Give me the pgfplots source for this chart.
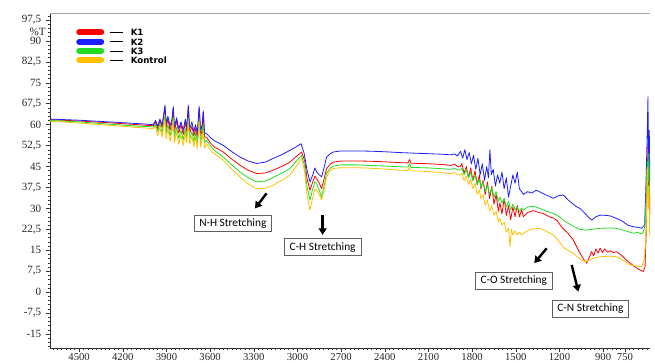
\documentclass[border=0pt]{standalone}
\usepackage{fontspec}
\setmainfont{Liberation Serif}
\setsansfont{DejaVu Sans}
\newfontfamily\calib{Carlito}
\usepackage{pgfplots}
\pgfplotsset{compat=1.18}
\usetikzlibrary{arrows.meta}
\definecolor{cKa}{HTML}{FF0000}
\definecolor{cKb}{HTML}{1E1EFF}
\definecolor{cKc}{HTML}{22DD22}
\definecolor{cKo}{HTML}{FFC000}
\begin{document}
\begin{tikzpicture}
\path[use as bounding box] (-37.5pt,-11.25pt) rectangle (453.75pt,261pt);
\begin{axis}[
  at={(0,0)}, anchor=south west,
  scale only axis, width=450pt, height=251.25pt,
  x dir=reverse, xmin=578, xmax=4700, ymin=-20, ymax=100,
  clip=false,
  axis x line*=bottom, axis y line*=left,
  axis line style={-, black!80, line width=0.5pt},
  tick align=outside,
  major tick length=3pt, minor tick length=1.5pt,
  every tick/.style={black!80, line width=0.4pt},
  xtick={4500,4200,3900,3600,3300,3000,2700,2400,2100,1800,1500,1200,900,750},
  minor xtick={600,630,...,4680},
  ytick={-15,-7.5,0,7.5,15,22.5,30,37.5,45,52.5,60,67.5,75,82.5,90,97.5},
  minor ytick={-19.5,-18,...,99},
  xticklabel style={font=\fontsize{8}{9}\selectfont, text=black!85, inner sep=0.8pt},
  yticklabel style={font=\fontsize{8.3}{9}\selectfont, text=black!85, xshift=0pt},
  /pgf/number format/assume math mode=true,
  /pgf/number format/.cd, use comma, fixed, precision=1, 1000 sep={},
  /pgfplots/.cd,
  every axis plot/.append style={mark=none, line width=0.6pt, line join=round},
  legend image code/.code={\draw[line width=4.5pt, line cap=round] (2.25pt,0pt) -- (18.75pt,0pt); \draw[black, line width=0.6pt] (25.5pt,0pt) -- (35pt,0pt);},
  legend style={at={(axis description cs:0.0433,0.955)}, anchor=north west, draw=none, fill=none,
    inner sep=0pt, font=\sffamily\bfseries\fontsize{6.5}{7}\selectfont, row sep=0.8pt,
    nodes={inner sep=0.6pt, text height=5pt, text depth=0pt},
    /tikz/every odd column/.append style={column sep=5pt}},
  legend cell align=left,
]
% K1
\addplot[cKa] coordinates {
(4700,61.8) (4500,61.3) (4300,60.7) (4100,60.0) (3990,59.6)
(3975,61) (3960,58.5) (3945,61.5) (3930,59) (3918,63) (3910,66.3) (3902,59) (3890,62) (3875,58) (3862,61) (3853,66) (3845,57.5) (3830,61.5) (3815,57) (3800,60) (3785,56.5) (3770,61) (3760,57.5) (3750,66.3) (3740,57) (3725,59.5) (3712,56) (3700,58.5) (3688,55.5) (3675,66) (3665,56) (3655,58) (3647,64) (3638,55.5)
(3625,55.6) (3600,53.5) (3570,52) (3510,50.2) (3450,47.6) (3395,45.5) (3340,43.7) (3281,42.5) (3220,42.7) (3167,43.7) (3110,45) (3052,46.6) (3010,48.5) (2971,50.2) (2950,47) (2935,41) (2914,36.5) (2895,39.5) (2880,41.5) (2868,40.7) (2850,39) (2834,37.1) (2815,41) (2800,44.3) (2775,45.8) (2754,46.6)
(2700,47) (2600,47) (2500,46.9) (2400,46.7) (2297,46.4) (2240,46.3) (2230,47.5) (2220,46.2) (2100,46) (2000,45.7) (1950,45.4) (1920,45.8) (1900,45) (1884,44.9)
(1870,46) (1855,42.5) (1840,45) (1825,41) (1810,44.5) (1795,40) (1780,43.5) (1765,38.5) (1750,42) (1740,37) (1725,40) (1710,35) (1695,39.5) (1680,33.5) (1665,38) (1650,31.5) (1635,35) (1620,29) (1609,32) (1595,28) (1580,33.5) (1565,27.5) (1550,31) (1535,26) (1520,30.5) (1505,27) (1490,31) (1475,27) (1460,29.5) (1448,27)
(1420,28.5) (1380,29.2) (1340,28.5) (1311,28.2) (1270,27) (1240,26.5) (1219,25.8) (1180,23) (1140,21) (1105,18.7) (1060,14) (1030,11.5) (1013,10.4) (995,12.5) (980,14.5) (965,13) (950,15.5) (935,14) (921,15.8) (905,14.2) (890,15.5) (870,14.3) (850,14.8) (830,14.2) (807,14.5) (770,13) (740,11.5) (715,10.4) (680,9) (650,8) (624,7.4) (612,9) (605,20) (598,38) (592,53) (588,35) (584,48) (579,28)
};
% K2
\addplot[cKb] coordinates {
(4700,62.0) (4500,61.6) (4300,61.0) (4100,60.4) (3990,60.0)
(3975,61.5) (3960,59.5) (3945,62) (3930,60) (3918,64) (3910,67) (3902,60.5) (3890,63) (3875,59.5) (3862,62) (3853,66.5) (3845,59) (3830,62.5) (3815,58.5) (3800,61) (3785,58) (3770,62) (3760,59) (3750,67) (3740,58.5) (3725,61) (3712,57.5) (3700,60) (3688,57) (3675,66.5) (3665,57.5) (3655,60) (3647,65) (3638,57)
(3625,56.8) (3600,55.5) (3570,54.2) (3510,52.6) (3450,50.3) (3395,48.4) (3340,47) (3281,46.1) (3220,46.6) (3167,47.9) (3110,49.2) (3052,50.8) (3010,52) (2976,53.2) (2955,50) (2935,44) (2914,39.5) (2895,42) (2880,44.5) (2868,43.1) (2850,42) (2834,41.3) (2815,45) (2800,48.4) (2775,49.6) (2754,50.2)
(2700,50.6) (2600,50.6) (2500,50.5) (2400,50.3) (2297,50.0) (2200,49.8) (2100,49.6) (2000,49.4) (1950,49.2) (1920,49.5) (1900,48.8)
(1880,50.5) (1865,48) (1850,51) (1835,47.5) (1820,50) (1805,46) (1790,49) (1775,44) (1760,48) (1745,42) (1730,46) (1715,40) (1700,45) (1688,41) (1678,51) (1668,42) (1655,44) (1640,38) (1625,42) (1610,39) (1595,43) (1580,37) (1565,41) (1550,34) (1535,38) (1520,42) (1505,39) (1490,43) (1475,37) (1460,36) (1448,35)
(1420,36) (1390,35.5) (1360,36.5) (1334,35.9) (1300,35) (1270,34.3) (1242,33.6) (1210,34.5) (1174,34.8) (1140,33) (1105,31.5) (1080,30.5) (1059,30) (1030,28.5) (1000,26.8) (978,25.8) (950,27) (921,27.6) (880,27.5) (850,27.3) (807,26.4) (770,25.5) (730,24) (692,23.4) (660,23.2) (635,22.9) (615,24) (605,40) (598,55) (592,70) (588,45) (583,58) (579,40)
};
% K3
\addplot[cKc] coordinates {
(4700,61.5) (4500,61) (4300,60.2) (4100,59.5) (3990,59.2)
(3975,60) (3960,57.5) (3945,60.5) (3930,57) (3918,61) (3910,63) (3902,57) (3890,60) (3875,56) (3862,59) (3853,62.5) (3845,55.5) (3830,59) (3815,55) (3800,58) (3785,54.5) (3770,58.5) (3760,55) (3750,62.5) (3740,55) (3725,57.5) (3712,54) (3700,57) (3688,53.5) (3675,62) (3665,54) (3655,56) (3647,60) (3638,53.5)
(3625,54.4) (3600,52.5) (3570,50.8) (3510,48.4) (3450,45.5) (3395,43.1) (3340,41) (3281,39.5) (3220,39.8) (3167,41.1) (3110,42.6) (3052,44.3) (3010,46.8) (2971,49) (2950,45) (2935,38) (2914,33) (2895,37) (2880,39.5) (2868,38.9) (2850,36.5) (2834,34.1) (2815,38.5) (2800,42.5) (2775,44.5) (2754,45.1)
(2700,45.6) (2600,45.6) (2500,45.4) (2400,45.2) (2297,44.9) (2240,44.8) (2230,46) (2220,44.7) (2100,44.5) (2000,44.2) (1950,44) (1920,44.3) (1900,43.8) (1884,43.7)
(1870,44.5) (1855,42) (1840,44) (1825,41) (1810,43) (1795,40) (1780,42) (1765,38.5) (1750,40.5) (1740,37.5) (1725,39.5) (1710,36) (1695,38.5) (1680,35) (1665,37.5) (1650,34) (1635,36) (1620,32.5) (1609,34) (1595,32) (1580,33.5) (1565,30.5) (1550,32.5) (1535,29.5) (1520,31.5) (1505,29.5) (1490,30.5) (1475,29) (1460,30) (1448,29.4)
(1420,30.5) (1380,30.8) (1334,30) (1290,29) (1242,28.2) (1200,27) (1174,25.8) (1120,24) (1059,22.5) (1013,22.2) (978,22.5) (921,22.9) (850,23) (807,22.9) (750,22) (692,21.1) (660,21.5) (640,20.8) (625,21.3) (612,24) (604,35) (596,47) (591,40) (586,49.7) (580,32)
};
% Kontrol
\addplot[cKo] coordinates {
(4700,61.2) (4500,60.6) (4300,59.8) (4100,59) (3990,58.6)
(3975,59.5) (3960,56) (3945,59) (3930,55.5) (3918,60) (3910,62) (3902,55) (3890,58.5) (3875,54) (3862,57.5) (3853,61.5) (3845,53.5) (3830,57.5) (3815,53) (3800,56.5) (3785,52.5) (3770,57) (3760,53.5) (3750,61.5) (3740,53) (3725,56) (3712,52) (3700,55.5) (3688,51.5) (3675,61) (3665,52) (3655,54.5) (3647,58) (3638,51.5)
(3625,53.2) (3600,51) (3570,49.5) (3510,47.3) (3450,44) (3395,41.3) (3340,38.8) (3281,37.1) (3220,37.2) (3167,38.3) (3110,40) (3052,41.9) (3010,45) (2971,47.9) (2950,43) (2935,35) (2914,29.4) (2895,34) (2880,37) (2868,36.5) (2850,35) (2834,33) (2815,37) (2800,41.3) (2775,43.5) (2754,44.3)
(2700,44.6) (2600,44.6) (2500,44.4) (2400,44.1) (2297,43.7) (2240,43.6) (2230,44.8) (2220,43.5) (2100,43.2) (2000,42.8) (1950,42.5) (1920,42.8) (1900,42) (1884,41.9)
(1870,42.5) (1855,40) (1840,41.5) (1825,38.5) (1810,40.5) (1795,37) (1780,39) (1765,35) (1750,36.5) (1740,33.5) (1725,35) (1710,31) (1695,33) (1680,29) (1665,31) (1650,27.5) (1635,29) (1620,25) (1609,26.5) (1595,24) (1580,25) (1565,21.5) (1550,23) (1540,16.3) (1530,22.5) (1520,20.5) (1505,22) (1490,20.5) (1475,21.5) (1460,20.5) (1448,21.1)
(1400,22.5) (1334,22.9) (1300,22) (1242,20.5) (1200,18) (1174,16) (1105,13.9) (1050,11.5) (1013,10.9) (978,12) (921,12.7) (850,12.9) (807,12.7) (750,11) (715,9.75) (660,9.3) (635,9.1) (615,12) (605,22) (595,44.7) (590,30) (585,38) (580,20)
};
\legend{K1,K2,K3,Kontrol}
\draw[gray!70, line width=0.5pt] (axis description cs:0,1) -- (axis description cs:1,1);
\node[anchor=east, font=\fontsize{8.3}{9}\selectfont, text=black!85, inner sep=0pt] at (axis description cs:-0.0067,0.944) {\%T};
% annotations
\tikzset{ann/.style={draw=gray!75!black, line width=0.6pt, fill=white, font=\calib\fontsize{8.5}{10}\selectfont, minimum width=57.5pt, minimum height=12.5pt, inner sep=1pt},
         arr/.style={-{Triangle[length=5pt,width=6pt]}, line width=1.8pt, black}}
\node[ann] at (axis cs:3444,24.6) {N-H Stretching};
\node[ann] at (axis cs:2827,16.1) {C-H Stretching};
\node[ann] at (axis cs:1514,4.1) {C-O Stretching};
\node[ann] at (axis cs:987,-5.9) {C-N Stretching};
\draw[arr] (axis cs:3212,35.4) -- (axis cs:3292,30);
\draw[arr] (axis cs:2827,27.6) -- (axis cs:2827,20.5);
\draw[arr] (axis cs:1288,15.7) -- (axis cs:1373,10.4);
\draw[arr] (axis cs:1116,9.75) -- (axis cs:1070,0.2);
\end{axis}
\end{tikzpicture}
\end{document}
